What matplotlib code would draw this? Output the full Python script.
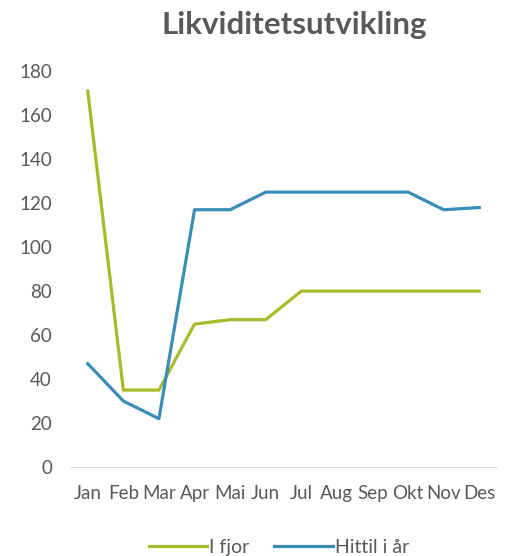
import matplotlib.pyplot as plt

months = ['Jan', 'Feb', 'Mar', 'Apr', 'Mai', 'Jun', 'Jul', 'Aug', 'Sep', 'Okt', 'Nov', 'Des']
i_fjor = [171, 35, 35, 65, 67, 67, 80, 80, 80, 80, 80, 80]
hittil = [47, 30, 22, 117, 117, 125, 125, 125, 125, 125, 117, 118]

plt.rcParams['font.family'] = ['Lato', 'DejaVu Sans']
txt = '#595959'

fig = plt.figure(figsize=(5.26, 5.56), dpi=100)
ax = fig.add_axes([0.133, 0.160, 0.812, 0.712])

x = range(len(months))
ax.plot(x, i_fjor, color='#a9ba2a', lw=2.3, label='I fjor', solid_joinstyle='round')
ax.plot(x, hittil, color='#3b8db8', lw=2.3, label='Hittil i år', solid_joinstyle='round')

ax.set_xlim(-0.5, len(months) - 0.5)
ax.set_ylim(0, 180)
ax.set_yticks(range(0, 181, 20))
ax.set_xticks(list(x))
ax.set_xticklabels(months)
ax.tick_params(length=0, labelsize=13.5, colors=txt)
ax.tick_params(axis='x', pad=13)
ax.tick_params(axis='y', pad=13)
for s in ['top', 'right', 'left']:
    ax.spines[s].set_visible(False)
ax.spines['bottom'].set_color('#d9d9d9')

fig.text(0.56, 0.955, 'Likviditetsutvikling', ha='center', va='center',
         fontsize=22.5, fontweight='bold', color=txt)

fig.legend(loc='center', bbox_to_anchor=(0.53, 0.016), ncol=2, frameon=False,
           fontsize=14, labelcolor=txt, handlelength=3.0, handletextpad=0.1,
           columnspacing=1.3)

fig.savefig('out.png', dpi=100)
